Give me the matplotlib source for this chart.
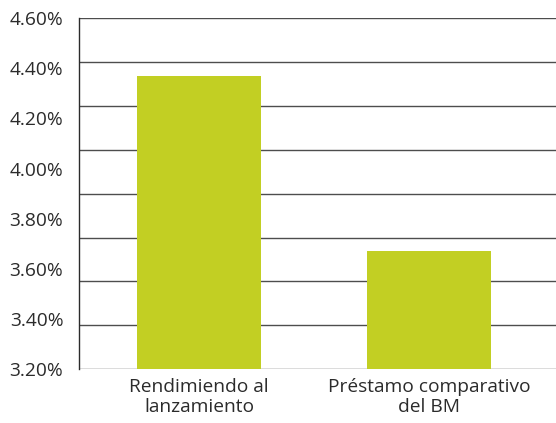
import matplotlib
matplotlib.use("Agg")
import matplotlib.pyplot as plt
import numpy as np

categories = ["Rendimiendo al\nlanzamiento", "Préstamo comparativo\ndel BM"]
values = [4.37, 3.67]
tick_values = [3.20, 3.40, 3.60, 3.80, 4.00, 4.20, 4.40, 4.60]
tick_labels = ["3.20%", "3.40%", "3.60%", "3.80%", "4.00%", "4.20%", "4.40%", "4.60%"]

plt.rcParams['font.family'] = ['Open Sans', 'DejaVu Sans']

fig = plt.figure(figsize=(5.56, 4.23), dpi=100)
ax = fig.add_axes([78.7/556, 1 - 369.3/423, (556 - 78.7)/556, (369.3 - 18)/423])

ymin, ymax = 3.20, 4.60
ax.set_ylim(ymin, ymax)
ax.set_xlim(-0.523, 1.552)

# horizontal gridlines (evenly spaced, 8 intervals)
for g in np.linspace(ymin, ymax, 9):
    ax.axhline(g, color="#4d4d4d", linewidth=1.0, zorder=1)

x = np.arange(len(categories))
ax.bar(x, [v - ymin for v in values], bottom=ymin, width=0.538, color="#c2cf23", zorder=2)

ax.set_yticks(tick_values)
ax.set_yticklabels(tick_labels, fontsize=13.8, color="#2b2b2b")
ax.set_xticks(x)
ax.set_xticklabels(categories, fontsize=13.8, color="#2b2b2b", linespacing=1.2)
ax.tick_params(axis="y", length=0, pad=11)
ax.tick_params(axis="x", length=0, pad=6)

for s in ["top", "right", "bottom"]:
    ax.spines[s].set_visible(False)
ax.spines["left"].set_color("#2b2b2b")
ax.spines["left"].set_linewidth(1.0)

fig.savefig("out.png", dpi=100)
